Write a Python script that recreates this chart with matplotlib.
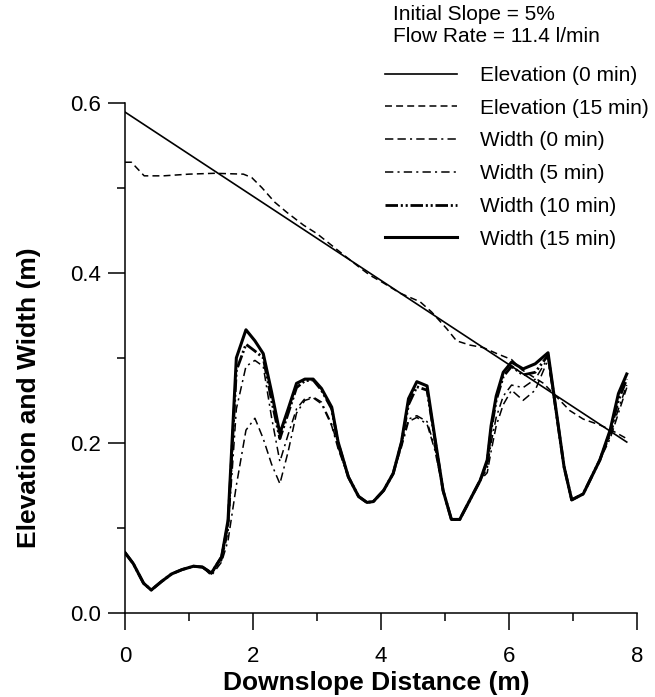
import matplotlib
matplotlib.use("Agg")
import matplotlib.pyplot as plt
from matplotlib.ticker import MultipleLocator, FormatStrFormatter

plt.rcParams['font.family'] = ['Liberation Sans', 'DejaVu Sans']
plt.rcParams['lines.scale_dashes'] = False

# ---------------- data ----------------
x_elev0 = [0.0, 7.84]
elev0 = [0.589, 0.201]

x_elev15 = [0.0, 0.1, 0.2, 0.3, 0.6, 1.0, 1.4, 1.85, 1.98, 2.14, 2.34, 2.53, 2.79,
            3.0, 3.3, 3.67, 3.83, 4.04, 4.3, 4.61, 4.79, 5.03, 5.18, 5.39, 5.6,
            5.81, 6.04, 6.2, 6.54, 6.95, 7.16, 7.42, 7.6, 7.84]
elev15 = [0.530, 0.530, 0.522, 0.514, 0.514, 0.516, 0.517, 0.516, 0.512, 0.500,
          0.483, 0.471, 0.456, 0.446, 0.428, 0.406, 0.397, 0.388, 0.376, 0.366,
          0.354, 0.334, 0.320, 0.315, 0.312, 0.305, 0.298, 0.286, 0.270, 0.238,
          0.228, 0.221, 0.215, 0.205]

x_width = [0.00, 0.13, 0.29, 0.41, 0.57, 0.73, 0.89, 1.07, 1.21, 1.35, 1.51, 1.61,
           1.74, 1.89, 2.03, 2.16, 2.29, 2.42, 2.55, 2.68, 2.81, 2.94, 3.07, 3.23,
           3.33, 3.49, 3.65, 3.78, 3.88, 4.04, 4.19, 4.32, 4.43, 4.56, 4.72, 4.84,
           4.97, 5.10, 5.23, 5.39, 5.55, 5.66, 5.72, 5.80, 5.91, 6.04, 6.22, 6.41,
           6.61, 6.86, 6.98, 7.16, 7.42, 7.58, 7.71, 7.84]
width15 = [0.071, 0.058, 0.035, 0.027, 0.037, 0.046, 0.051, 0.055, 0.054, 0.047, 0.066, 0.109,
           0.300, 0.333, 0.320, 0.305, 0.260, 0.211, 0.240, 0.270, 0.275, 0.275, 0.264, 0.242,
           0.201, 0.160, 0.137, 0.130, 0.131, 0.144, 0.164, 0.201, 0.252, 0.272, 0.267, 0.207,
           0.144, 0.110, 0.110, 0.133, 0.156, 0.180, 0.220, 0.255, 0.283, 0.295, 0.287, 0.293,
           0.306, 0.172, 0.133, 0.140, 0.180, 0.215, 0.258, 0.281]
width10 = [0.071, 0.058, 0.035, 0.027, 0.037, 0.046, 0.051, 0.055, 0.054, 0.047, 0.066, 0.105,
           0.285, 0.316, 0.308, 0.300, 0.250, 0.205, 0.235, 0.265, 0.273, 0.274, 0.262, 0.240,
           0.200, 0.160, 0.137, 0.130, 0.131, 0.144, 0.164, 0.200, 0.245, 0.266, 0.262, 0.205,
           0.144, 0.110, 0.110, 0.133, 0.156, 0.178, 0.215, 0.250, 0.278, 0.290, 0.280, 0.283,
           0.303, 0.172, 0.133, 0.140, 0.180, 0.213, 0.250, 0.275]
width5 = [0.071, 0.058, 0.035, 0.027, 0.037, 0.046, 0.051, 0.055, 0.054, 0.046, 0.062, 0.095,
          0.240, 0.290, 0.297, 0.290, 0.230, 0.178, 0.210, 0.240, 0.252, 0.254, 0.248, 0.222,
          0.195, 0.160, 0.137, 0.130, 0.131, 0.144, 0.164, 0.198, 0.228, 0.232, 0.225, 0.195,
          0.144, 0.110, 0.110, 0.133, 0.156, 0.170, 0.200, 0.230, 0.255, 0.268, 0.265, 0.275,
          0.300, 0.172, 0.133, 0.140, 0.180, 0.208, 0.240, 0.268]
width0 = [0.071, 0.058, 0.035, 0.027, 0.037, 0.046, 0.051, 0.055, 0.054, 0.044, 0.060, 0.085,
          0.150, 0.215, 0.229, 0.205, 0.175, 0.152, 0.190, 0.235, 0.250, 0.253, 0.246, 0.220,
          0.193, 0.160, 0.137, 0.130, 0.131, 0.144, 0.164, 0.195, 0.225, 0.230, 0.222, 0.192,
          0.144, 0.110, 0.110, 0.133, 0.156, 0.165, 0.190, 0.220, 0.245, 0.262, 0.250, 0.262,
          0.298, 0.172, 0.133, 0.140, 0.180, 0.205, 0.235, 0.265]

labels = ["Elevation (0 min)", "Elevation (15 min)", "Width (0 min)",
          "Width (5 min)", "Width (10 min)", "Width (15 min)"]
title_lines = ["Initial Slope = 5%", "Flow Rate = 11.4 l/min"]
x_label = "Downslope Distance (m)"
y_label = "Elevation and Width (m)"

# ---------------- figure ----------------
W, H = 655, 697
fig = plt.figure(figsize=(W / 100, H / 100), dpi=100)
ax = fig.add_axes([125 / W, 1 - 613 / H, 512 / W, 510.3 / H])

h1, = ax.plot(x_elev0, elev0, color='black', lw=1.2, ls='-')
h2, = ax.plot(x_elev15, elev15, color='black', lw=1.1, ls=(0, (5, 3)))
h3, = ax.plot(x_width, width0, color='black', lw=1.1, ls=(0, (6, 3, 6, 3, 1.5, 3)))
h4, = ax.plot(x_width, width5, color='black', lw=1.1, ls=(0, (6, 3, 1.5, 3)))
h5, = ax.plot(x_width, width10, color='black', lw=2.0, ls=(0, (9, 2, 1.5, 2, 1.5, 2)))
h6, = ax.plot(x_width, width15, color='black', lw=2.2, ls='-')

ax.set_xlim(0, 8)
ax.set_ylim(0, 0.6)
ax.xaxis.set_major_locator(MultipleLocator(2))
ax.xaxis.set_minor_locator(MultipleLocator(1))
ax.yaxis.set_major_locator(MultipleLocator(0.2))
ax.yaxis.set_minor_locator(MultipleLocator(0.1))
ax.yaxis.set_major_formatter(FormatStrFormatter('%.1f'))
for s in ['top', 'right']:
    ax.spines[s].set_visible(False)
for s in ['left', 'bottom']:
    ax.spines[s].set_linewidth(1.1)
ax.tick_params(which='major', direction='out', length=12, width=1.1, labelsize=16)
ax.tick_params(axis='y', which='major', pad=5)
ax.tick_params(axis='x', which='major', pad=12)
ax.tick_params(which='minor', direction='out', length=6, width=1.1)

ax.set_xlabel(x_label, fontsize=19, fontweight='bold', va='center')
ax.xaxis.set_label_coords(0.49, (613 - 683) / 510.3)
ax.set_ylabel(y_label, fontsize=19, fontweight='bold', va='center')
ax.yaxis.set_label_coords((29 - 125) / 512, (613 - 398) / 510.3)

leg = fig.legend([h1, h2, h3, h4, h5, h6], labels, loc='upper left',
                 bbox_to_anchor=(385 / W, 1 - 66 / H), frameon=False,
                 fontsize=15, handlelength=3.46, handletextpad=1.1,
                 labelspacing=0.66, borderpad=0, borderaxespad=0)

fig.text(393 / W, 1 - 15 / H, title_lines[0], fontsize=15, va='center', ha='left')
fig.text(393 / W, 1 - 37 / H, title_lines[1], fontsize=15, va='center', ha='left')

fig.savefig("out.png", dpi=100)
